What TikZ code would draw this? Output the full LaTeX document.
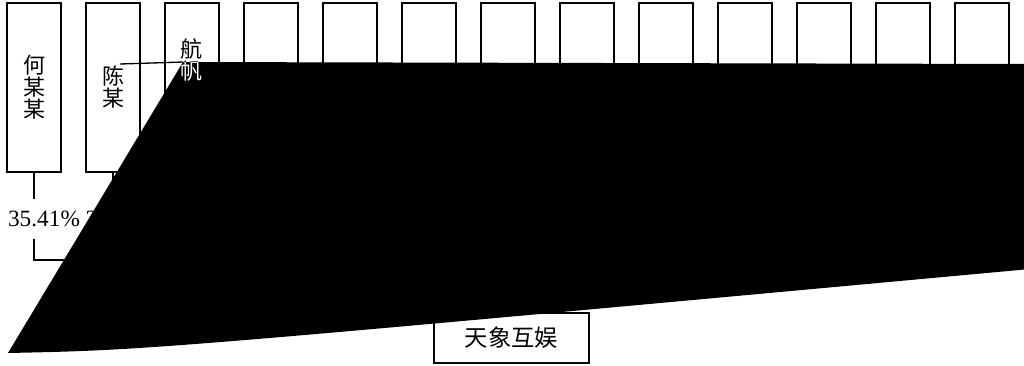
\documentclass[tikz,border=0pt]{standalone}
\usepackage{fontspec}
\setmainfont{Liberation Serif}
\newfontfamily\cjk{Noto Sans CJK SC}
\usetikzlibrary{positioning}

\tikzset{
  holder/.style={draw, minimum width=40.5pt, minimum height=126.75pt, inner sep=0pt},
  hname/.style={align=center, inner sep=0pt, font=\cjk\fontsize{16.5}{16.5}\selectfont},
  ratio/.style={fill=white, inner sep=1pt, minimum height=28.5pt, font=\fontsize{17.5}{19}\selectfont}
}

\begin{document}
\begin{tikzpicture}[x=0.75pt,y=-0.75pt,line width=1pt]
  \useasboundingbox (0,0) rectangle (1024,365);

  \foreach \i in {0,...,12}
  {
    \node at (34+79*\i,87.5) [holder] (h\i) {};
  }
  \node at (h0.center) [hname] (n0) {何\\某\\某};
  \node at (h1.center) [hname] (n1) {陈\\某};
  \node at (191.5,60) [hname] (n2) {航\\帆};

  \node at (511.5,338) [draw, minimum width=116.25pt, minimum height=37.5pt,
    font=\cjk\fontsize{17.5}{18}\selectfont] (tx) {天象互娱};

  \coordinate (bus) at (511.5,260);
  \node at (44,219) [ratio] (r0) {35.41\%};
  \node at (85,219) [ratio, anchor=west, fill=none, inner sep=0pt] (r1) {2};
  \draw (h0.south) -- (h0.south |- r0.north);
  \draw (h0.south |- r0.south) |- (bus) -- (tx.north);
  \draw (h1.south) |- (bus);

  \coordinate (k0) at (120,64);
  \coordinate (k1) at (183,62);
  \fill (k1) -- (1030,64) -- (1030,269) .. controls (150,350) .. (8,353) -- cycle;
  \draw (k0) -- (k1);
  \begin{scope}
    \clip (k1) -- (1030,64) -- (1030,269) .. controls (150,350) .. (8,353) -- cycle;
    \node at (n2.center) [hname, white] {航\\帆};
  \end{scope}
\end{tikzpicture}
\end{document}
